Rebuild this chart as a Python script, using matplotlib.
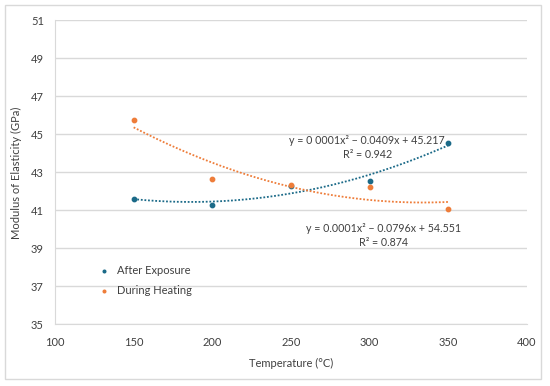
import numpy as np
import matplotlib.pyplot as plt
from matplotlib.patches import Rectangle

plt.rcParams['font.family'] = ['Lato', 'DejaVu Sans']

# data
temps = [150, 200, 250, 300, 350]
after_exposure = [41.62, 41.27, 42.28, 42.55, 44.52]
during_heating = [45.78, 42.65, 42.35, 42.25, 41.07]

blue = '#1B6A88'
orange = '#EE7D3A'
grid = '#D9D9D9'
txt = '#404040'

fig = plt.figure(figsize=(5.5, 3.86), dpi=100)
fig.patches.append(Rectangle((5 / 550, 7 / 386), 536 / 550, 374 / 386,
                             transform=fig.transFigure, fill=False,
                             edgecolor=grid, linewidth=1))
ax = fig.add_axes([0.1, 0.16, 0.858, 0.787])

ax.scatter(temps, after_exposure, s=10, color=blue, label='After Exposure', zorder=3)
ax.scatter(temps, during_heating, s=10, color=orange, label='During Heating', zorder=3)

# quadratic trendlines
xs = np.linspace(150, 350, 200)
for ys, c in [(after_exposure, blue), (during_heating, orange)]:
    p = np.polyfit(temps, ys, 2)
    ax.plot(xs, np.polyval(p, xs), linestyle=(0, (1, 1)), color=c, linewidth=1.3, zorder=2)

ax.text(298.5, 44.3, 'y = 0 0001x² − 0.0409x + 45.217\nR² = 0.942', ha='center',
        va='center', fontsize=7.7, color=txt, linespacing=1.3)
ax.text(309, 39.66, 'y = 0.0001x² − 0.0796x + 54.551\nR² = 0.874', ha='center',
        va='center', fontsize=7.7, color=txt, linespacing=1.3)

ax.set_xlim(100, 400)
ax.set_ylim(35, 51)
ax.set_xticks(range(100, 401, 50))
ax.set_yticks(range(35, 52, 2))
ax.grid(axis='y', color=grid, linewidth=1)
ax.set_axisbelow(True)
for s in ['top', 'right']:
    ax.spines[s].set_visible(False)
for s in ['left', 'bottom']:
    ax.spines[s].set_color(grid)
ax.tick_params(length=0, labelsize=8, labelcolor=txt)
ax.tick_params(axis='x', pad=9)
ax.tick_params(axis='y', pad=8)
ax.set_xlabel('Temperature (°C)', fontsize=8, color=txt, labelpad=7)
ax.set_ylabel('Modulus of Elasticity (GPa)', fontsize=8, color=txt, labelpad=6)

ax.legend(loc='lower left', bbox_to_anchor=(0.06, 0.06), frameon=False,
          fontsize=8, handletextpad=0.1, markerscale=0.6, labelcolor=txt,
          labelspacing=0.85)

fig.savefig('out.png')
